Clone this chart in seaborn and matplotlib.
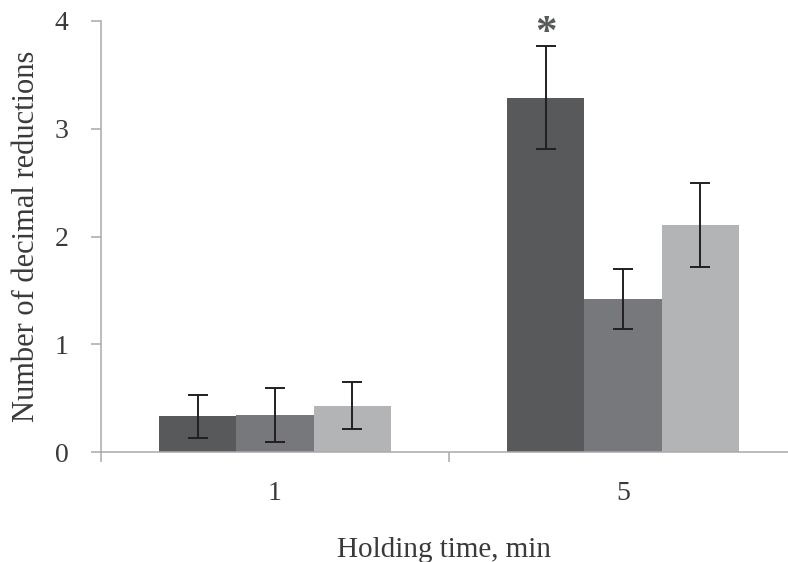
import matplotlib
matplotlib.use("Agg")
import matplotlib.pyplot as plt
import matplotlib.ticker as mticker
import numpy as np
import pandas as pd
import seaborn as sns

# Mean number of decimal reductions and their error bars, per holding time
holding_times = ["1", "5"]
treatments = ["Treatment A", "Treatment B", "Treatment C"]
means_1min = [0.33, 0.34, 0.43]
errors_1min = [0.20, 0.25, 0.22]
means_5min = [3.29, 1.42, 2.11]
errors_5min = [0.48, 0.28, 0.39]
y_ticks = [0, 1, 2, 3, 4]

colors = ["#58595b", "#77787b", "#b3b4b6"]
axis_gray = "#a7a9ac"
text_color = "#3a3a3c"

df = pd.DataFrame({
    "time": [holding_times[0]] * 3 + [holding_times[1]] * 3,
    "treatment": treatments * 2,
    "value": means_1min + means_5min,
    "err": errors_1min + errors_5min,
})

sns.set_theme(style="white")
plt.rcParams["font.family"] = ["Liberation Serif", "DejaVu Serif"]

fig = plt.figure(figsize=(7.88, 5.62), dpi=100)
ax = fig.add_axes([101 / 788, 110 / 562, 696 / 788, 431 / 562])

sns.barplot(data=df, x="time", y="value", hue="treatment", order=holding_times,
            hue_order=treatments, palette=colors, width=0.664, errorbar=None,
            saturation=1, linewidth=0, legend=False, ax=ax)

# Error bars placed at each bar centre
for bar, (_, row) in zip(sorted(ax.patches, key=lambda p: p.get_x()),
                         df.sort_values(["time", "treatment"]).iterrows()):
    cx = bar.get_x() + bar.get_width() / 2
    ax.errorbar(cx, row["value"], yerr=row["err"], fmt="none",
                ecolor="#231f20", elinewidth=1.4, capsize=7, capthick=1.4)

# Significance marker just above the tallest bar's error bar
tall = max(ax.patches, key=lambda p: p.get_height())
ax.text(tall.get_x() + tall.get_width() / 2, 3.79, "*", ha="center",
        va="baseline", fontsize=31, fontweight="bold", color="#58595b")

ax.set_xlim(-0.5, 1.5)
ax.set_ylim(0, 4)
ax.set_yticks(y_ticks)
ax.set_yticklabels([str(t) for t in y_ticks])

# Category boundaries carry the tick marks, centres carry the labels
ax.xaxis.set_major_locator(mticker.FixedLocator([-0.5, 0.5, 1.5]))
ax.xaxis.set_major_formatter(mticker.NullFormatter())
ax.xaxis.set_minor_locator(mticker.FixedLocator([0, 1]))
ax.xaxis.set_minor_formatter(mticker.FixedFormatter(holding_times))
ax.tick_params(axis="x", which="major", direction="out", length=7.5,
               width=1.1, color=axis_gray, bottom=True)
ax.tick_params(axis="x", which="minor", length=0, pad=21, labelsize=20,
               labelcolor=text_color)
ax.tick_params(axis="y", direction="out", length=7.5, width=1.1,
               color=axis_gray, left=True, pad=16, labelsize=20,
               labelcolor=text_color)

for side in ["top", "right"]:
    ax.spines[side].set_visible(False)
for side in ["left", "bottom"]:
    ax.spines[side].set_color(axis_gray)
    ax.spines[side].set_linewidth(1.1)

ax.set_xlabel("")
ax.set_ylabel("Number of decimal reductions", fontsize=22, color=text_color,
              labelpad=10)
fig.text(444 / 788, 1 - 557 / 562, "Holding time, min", ha="center",
         va="baseline", fontsize=21, color=text_color)

fig.savefig("out.png", dpi=100)
